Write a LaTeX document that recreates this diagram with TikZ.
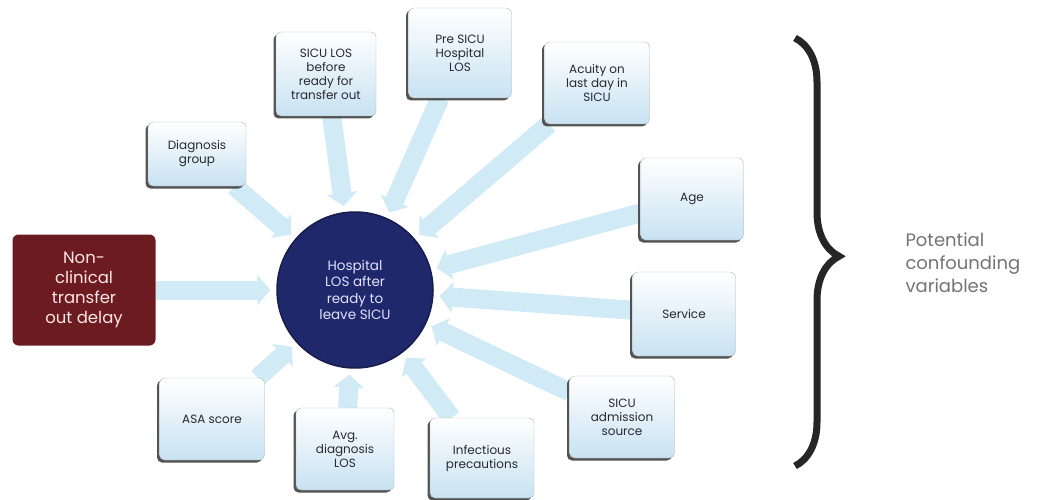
\documentclass[tikz,border=0pt]{standalone}
\usepackage{fontspec}
\setmainfont{Poppins}
\usepackage{xcolor}
\usetikzlibrary{arrows.meta,shadows,backgrounds,decorations.pathreplacing}
\definecolor{arrblue}{RGB}{208,234,246}
\definecolor{boxblue}{RGB}{200,226,242}
\definecolor{hubnavy}{RGB}{32,40,108}
\definecolor{delayred}{RGB}{108,28,32}
\definecolor{txtgray}{RGB}{40,40,48}

\begin{document}
\begin{tikzpicture}[
  x=1pt,y=-1pt,
  box/.style={draw=gray!60,rounded corners=5pt,align=center,text=txtgray,
              font=\fontsize{12}{14}\selectfont,
              minimum width=100pt,minimum height=82pt,inner sep=2pt,
              top color=white,bottom color=boxblue,
              drop shadow={shadow xshift=-2.5pt,shadow yshift=-2.5pt,fill=black!75,opacity=.9}},
  hub/.style={circle,draw=hubnavy!70!black,line width=1.5pt,fill=hubnavy,minimum size=156pt,
              align=center,text=white!88!blue,font=\fontsize{13.5}{16.5}\selectfont,inner sep=0pt},
  delay/.style={rounded corners=6pt,fill=delayred,align=center,text=red!10,
                font=\fontsize{16.5}{20}\selectfont,minimum width=143pt,minimum height=111pt},
  arr/.style={arrblue,line width=19pt,
              -{Triangle[width=30pt,length=13pt]},shorten >=6pt},
]
\useasboundingbox (0,0) rectangle (1046,500);

\node[hub] (hub) at (355,290) {Hospital\\LOS after\\ready to\\leave SICU};
\node[delay] (delay) at (84,290) {Non-\\clinical\\transfer\\out delay};

\node[box,minimum height=64pt,minimum width=98pt] (dg) at (197,154) {Diagnosis\\group};
\node[box,minimum height=84pt] (slos) at (326,74) {SICU LOS\\before\\ready for\\transfer out};
\node[box,minimum height=90pt,minimum width=103pt] (pre) at (460,53) {Pre SICU\\Hospital\\LOS};
\node[box,minimum width=105pt] (acu) at (597,83) {Acuity on\\last day in\\SICU};
\node[box,minimum width=103pt] (age) at (692,199) {Age};
\node[box,minimum height=84pt,minimum width=103pt] (srv) at (684,314) {Service};
\node[box,minimum width=105pt] (adm) at (622,417) {SICU\\admission\\source};
\node[box,minimum height=80pt,minimum width=104pt] (inf) at (482,458) {Infectious\\precautions};
\node[box,minimum width=98pt] (avg) at (345,449) {Avg.\\diagnosis\\LOS};
\node[box,minimum width=105pt] (asa) at (212,419) {ASA score};

\begin{scope}[on background layer]
\foreach \src in {dg,slos,pre,acu,age,srv,adm,inf,avg,asa}
  \draw[arr] (\src) -- (hub);
\draw[arr] (delay) -- (hub);
\end{scope}

% brace and label
\coordinate (bt) at (795,38);
\coordinate (bb) at (795,466);
\draw[line width=7pt,black!85,decorate,
      decoration={brace,amplitude=44pt,aspect=0.51}] (bt) -- (bb);
\node[align=left,anchor=west,text=black!55,font=\fontsize{18}{23}\selectfont]
  (conf) at (902,263) {Potential\\confounding\\variables};
\end{tikzpicture}
\end{document}
